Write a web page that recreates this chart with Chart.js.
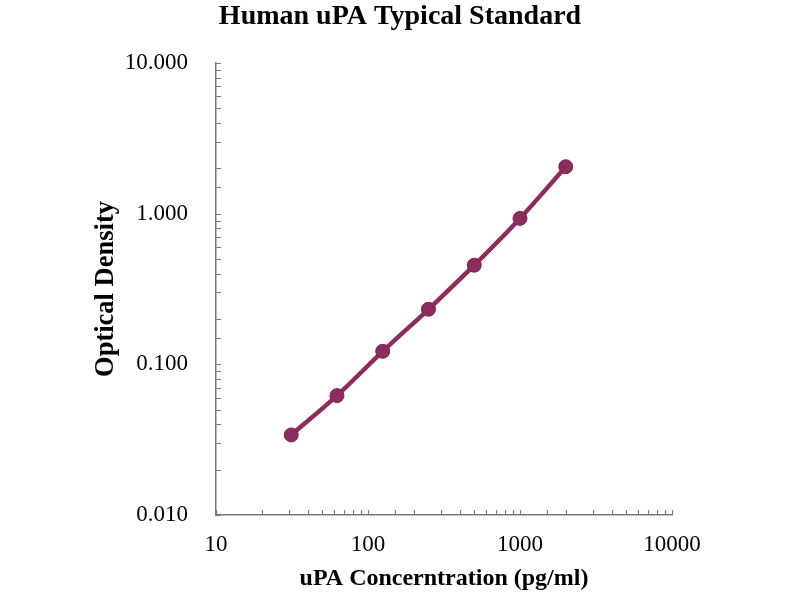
<!DOCTYPE html>
<html>
<head>
<meta charset="utf-8">
<script src="https://cdn.jsdelivr.net/npm/chart.js@4.4.0/dist/chart.umd.min.js"></script>
<style>
html,body{margin:0;padding:0;background:#fff;}
#wrap{width:800px;height:600px;}
</style>
</head>
<body>
<div id="wrap"><canvas id="c" width="800" height="600"></canvas></div>
<script>
// Data
const concentrations = [31.25, 62.5, 125, 250, 500, 1000, 2000];
const opticalDensity = [0.034, 0.062, 0.122, 0.232, 0.455, 0.93, 2.05];
const xTickLabels = ['10', '100', '1000', '10000'];
const yTickLabels = ['0.010', '0.100', '1.000', '10.000'];

const lineColor = '#8C2D5F';
const axisColor = '#7a7a7a';
const serif = "'Liberation Serif', 'Times New Roman', serif";

function isDecade(v) {
  const l = Math.log10(v);
  return Math.abs(l - Math.round(l)) < 1e-6;
}

const innerTicks = {
  id: 'innerTicks',
  afterDraw(chart) {
    const ctx = chart.ctx;
    const xs = chart.scales.x, ys = chart.scales.y;
    const area = chart.chartArea;
    ctx.save();
    ctx.strokeStyle = axisColor;
    ctx.lineWidth = 1.2;
    ctx.beginPath();
    xs.ticks.forEach(t => {
      const px = Math.round(xs.getPixelForValue(t.value)) + 0.5;
      ctx.moveTo(px, area.bottom);
      ctx.lineTo(px, area.bottom - 5);
    });
    ys.ticks.forEach(t => {
      const py = Math.round(ys.getPixelForValue(t.value)) + 0.5;
      ctx.moveTo(area.left, py);
      ctx.lineTo(area.left + 5, py);
    });
    ctx.stroke();
    ctx.restore();
  }
};

new Chart(document.getElementById('c'), {
  type: 'line',
  data: {
    datasets: [{
      data: concentrations.map((c, i) => ({x: c, y: opticalDensity[i]})),
      borderColor: lineColor,
      backgroundColor: lineColor,
      pointBackgroundColor: lineColor,
      pointBorderColor: '#7a2350',
      pointBorderWidth: 1,
      pointRadius: 7,
      borderWidth: 4.5,
      cubicInterpolationMode: 'monotone',
      fill: false
    }]
  },
  options: {
    responsive: false,
    animation: false,
    devicePixelRatio: 1,
    layout: {padding: 0},
    plugins: {
      legend: {display: false},
      tooltip: {enabled: false},
      title: {
        display: true,
        text: 'Human uPA Typical Standard',
        color: '#000',
        font: {family: serif, size: 28, weight: 'bold'},
        padding: {top: 0, bottom: 29.4}
      }
    },
    scales: {
      x: {
        type: 'logarithmic',
        min: 10,
        max: 10000,
        grid: {display: false},
        border: {display: true, color: axisColor, width: 1.5},
        ticks: {
          autoSkip: false,
          maxRotation: 0,
          color: '#000',
          padding: 8,
          font: {family: serif, size: 23},
          callback: function(v) {
            if (!isDecade(v)) return '';
            const i = Math.round(Math.log10(v)) - 1;
            return xTickLabels[i];
          }
        },
        title: {
          display: true,
          text: 'uPA Concerntration (pg/ml)',
          color: '#000',
          font: {family: serif, size: 24, weight: 'bold'},
          padding: {top: 0, bottom: 7}
        },
        afterFit: s => { s.height = 85; }
      },
      y: {
        type: 'logarithmic',
        min: 0.01,
        max: 10,
        grid: {display: false},
        border: {display: true, color: axisColor, width: 1.5},
        ticks: {
          autoSkip: false,
          color: '#000',
          padding: 20,
          font: {family: serif, size: 23},
          callback: function(v) {
            if (!isDecade(v)) return '';
            const i = Math.round(Math.log10(v)) + 2;
            return yTickLabels[i];
          }
        },
        title: {
          display: true,
          text: 'Optical Density',
          color: '#000',
          font: {family: serif, size: 26.5, weight: 'bold'},
          padding: {top: 90, bottom: 0}
        },
        afterFit: s => { s.width = 216; }
      },
      spacer: {
        type: 'linear',
        position: 'right',
        min: 0,
        max: 1,
        display: true,
        grid: {display: false, drawTicks: false},
        border: {display: false},
        ticks: {display: false},
        afterFit: s => { s.width = 128; }
      }
    }
  },
  plugins: [innerTicks]
});
</script>
</body>
</html>
